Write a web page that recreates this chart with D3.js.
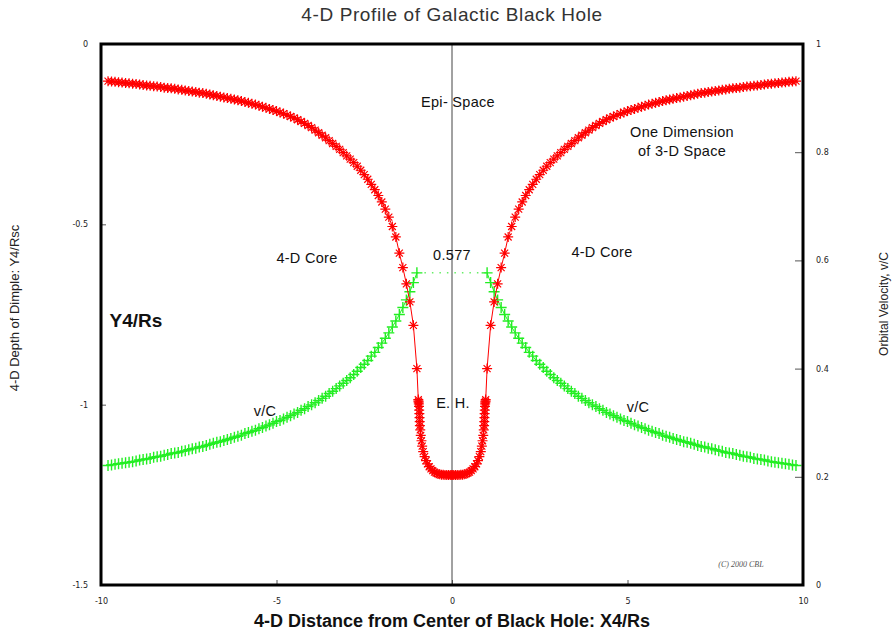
<!DOCTYPE html>
<html>
<head>
<meta charset="utf-8">
<script src="https://cdn.jsdelivr.net/npm/d3@7"></script>
<style>
  body { margin: 0; background: #fff; }
  text { font-family: "Liberation Sans", Arial, sans-serif; }
</style>
</head>
<body>
<div id="chart"></div>
<script>
(function(d3) {

// sample positions along X4/Rs (right half, mirrored for the left half)
var xGrid = [1.0,1.1,1.2,1.3,1.4,1.5,1.6,1.7,1.8,1.9,2.0,2.1,2.2,2.3,2.4,2.5,2.6,2.7,2.8,2.9,
  3.0,3.1,3.2,3.3,3.4,3.5,3.6,3.7,3.8,3.9,4.0,4.1,4.2,4.3,4.4,4.5,4.6,4.7,4.8,4.9,
  5.0,5.1,5.2,5.3,5.4,5.5,5.6,5.7,5.8,5.9,6.0,6.1,6.2,6.3,6.4,6.5,6.6,6.7,6.8,6.9,
  7.0,7.1,7.2,7.3,7.4,7.5,7.6,7.7,7.8,7.9,8.0,8.1,8.2,8.3,8.4,8.5,8.6,8.7,8.8,8.9,
  9.0,9.1,9.2,9.3,9.4,9.5,9.6,9.7,9.8];

// 4-D depth Y4/Rs outside the core
var depthY = [-0.900,-0.780,-0.715,-0.665,-0.620,-0.580,-0.535,-0.506,-0.480,-0.458,
  -0.438,-0.420,-0.404,-0.389,-0.375,-0.362,-0.350,-0.339,-0.329,-0.319,
  -0.310,-0.301,-0.292,-0.284,-0.276,-0.268,-0.260,-0.253,-0.246,-0.239,
  -0.232,-0.226,-0.220,-0.215,-0.210,-0.205,-0.201,-0.197,-0.193,-0.190,
  -0.186,-0.183,-0.180,-0.177,-0.174,-0.171,-0.168,-0.166,-0.163,-0.161,
  -0.158,-0.156,-0.154,-0.152,-0.150,-0.148,-0.146,-0.144,-0.142,-0.140,
  -0.138,-0.136,-0.135,-0.133,-0.132,-0.130,-0.129,-0.127,-0.126,-0.124,
  -0.123,-0.122,-0.121,-0.119,-0.118,-0.117,-0.116,-0.115,-0.114,-0.112,
  -0.111,-0.110,-0.109,-0.108,-0.107,-0.106,-0.105,-0.104,-0.103];

// event horizon pit (right half)
var pitX = [0,0.05,0.1,0.15,0.2,0.25,0.3,0.35,0.4,0.45,0.5,0.55,0.6,0.65,0.7,0.74,0.78,0.82,
  0.85,0.87,0.89,0.905,0.915,0.92,0.925,0.93,0.935,0.94,0.945,0.95,0.955,0.96];
var pitY = [-1.195,-1.195,-1.195,-1.195,-1.195,-1.194,-1.194,-1.193,-1.192,-1.190,-1.187,-1.183,
  -1.178,-1.172,-1.164,-1.155,-1.144,-1.130,-1.115,-1.100,-1.085,-1.070,-1.058,-1.047,-1.036,
  -1.025,-1.015,-1.005,-0.998,-0.993,-0.990,-0.986];

// orbital velocity v/C
var velocity = [0.577,0.559,0.542,0.527,0.513,0.500,0.488,0.477,0.466,0.456,
  0.447,0.439,0.430,0.423,0.415,0.408,0.402,0.395,0.389,0.383,
  0.378,0.373,0.368,0.363,0.358,0.354,0.349,0.345,0.341,0.337,
  0.333,0.330,0.326,0.323,0.319,0.316,0.313,0.310,0.307,0.304,
  0.302,0.299,0.296,0.294,0.291,0.289,0.286,0.284,0.282,0.280,
  0.277,0.275,0.273,0.271,0.269,0.267,0.265,0.264,0.262,0.260,
  0.258,0.256,0.255,0.253,0.252,0.250,0.248,0.247,0.245,0.244,
  0.243,0.241,0.240,0.238,0.237,0.236,0.234,0.233,0.232,0.231,
  0.229,0.228,0.227,0.226,0.225,0.224,0.223,0.222,0.221];

var xTicks = [-10, -5, 0, 5, 10];
var xTickLabels = ['-10', '-5', '0', '5', '10'];
var yTicks = [0, -0.5, -1, -1.5];
var yTickLabels = ['0', '-0.5', '-1', '-1.5'];
var vTicks = [1, 0.8, 0.6, 0.4, 0.2, 0];
var vTickLabels = ['1', '0.8', '0.6', '0.4', '0.2', '0'];

var width = 894;
var height = 634;
var left = 101, right = 803, top = 44, bottom = 585;

var svg = d3.select('#chart')
  .append('svg')
  .attr('width', width)
  .attr('height', height);

var x = d3.scaleLinear().domain([-10, 10]).range([left, right]);
var y = d3.scaleLinear().domain([0, -1.5]).range([top, bottom]);
var yv = d3.scaleLinear().domain([1, 0]).range([top, bottom]);

// build the profile points: left half mirrored, then right half
var rightHalf = [];
pitX.forEach(function(px, i) { rightHalf.push({ x: px, y: pitY[i] }); });
xGrid.forEach(function(gx, i) { rightHalf.push({ x: gx, y: depthY[i] }); });
var leftHalf = rightHalf.map(function(d) { return { x: -d.x, y: d.y }; }).reverse();
var profile = leftHalf.concat(rightHalf);

var velRight = xGrid.map(function(gx, i) { return { x: gx, v: velocity[i] }; });
var velLeft = velRight.map(function(d) { return { x: -d.x, v: d.v }; });

// axes
function styleAxis(g) {
  g.select('.domain').remove();
  g.selectAll('.tick line').attr('stroke', '#555');
  g.selectAll('.tick text')
    .style('font-family', '"DejaVu Sans", sans-serif')
    .style('font-size', '8px')
    .attr('fill', '#222');
}

svg.append('g')
  .attr('transform', 'translate(0,' + bottom + ')')
  .call(d3.axisBottom(x).tickValues(xTicks)
    .tickFormat(function(d, i) { return xTickLabels[i]; })
    .tickSizeInner(-5).tickSizeOuter(0).tickPadding(13))
  .call(styleAxis);

svg.append('g')
  .attr('transform', 'translate(' + left + ',0)')
  .call(d3.axisLeft(y).tickValues(yTicks)
    .tickFormat(function(d, i) { return yTickLabels[i]; })
    .tickSizeInner(-5).tickSizeOuter(0).tickPadding(13))
  .call(styleAxis);

svg.append('g')
  .attr('transform', 'translate(' + right + ',0)')
  .call(d3.axisRight(yv).tickValues(vTicks)
    .tickFormat(function(d, i) { return vTickLabels[i]; })
    .tickSizeInner(-8).tickSizeOuter(0).tickPadding(13))
  .call(styleAxis);

// centre line
svg.append('line')
  .attr('x1', x(0)).attr('x2', x(0))
  .attr('y1', top).attr('y2', bottom)
  .attr('stroke', '#444')
  .attr('stroke-width', 1);

// dotted line at v/C = 0.577 between the two curves
svg.append('line')
  .attr('x1', x(velLeft[0].x)).attr('x2', x(velRight[0].x))
  .attr('y1', yv(velocity[0])).attr('y2', yv(velocity[0]))
  .attr('stroke', '#66ee66')
  .attr('stroke-width', 1.5)
  .attr('stroke-dasharray', '1.5,6');

// velocity curves (green +)
var vLine = d3.line()
  .x(function(d) { return x(d.x); })
  .y(function(d) { return yv(d.v); });

[velLeft, velRight].forEach(function(set) {
  svg.append('path')
    .attr('d', vLine(set))
    .attr('fill', 'none')
    .attr('stroke', '#22ee22')
    .attr('stroke-width', 1);

  svg.append('g').selectAll('path')
    .data(set)
    .enter()
    .append('path')
    .attr('d', function(d) {
      var cx = x(d.x), cy = yv(d.v), s = 5.5;
      return 'M' + (cx - s) + ',' + cy + 'H' + (cx + s) +
             'M' + cx + ',' + (cy - s) + 'V' + (cy + s);
    })
    .attr('stroke', '#22ee22')
    .attr('stroke-width', 1.4);
});

// profile curve (red *)
var pLine = d3.line()
  .x(function(d) { return x(d.x); })
  .y(function(d) { return y(d.y); });

svg.append('path')
  .attr('d', pLine(profile))
  .attr('fill', 'none')
  .attr('stroke', '#ff0000')
  .attr('stroke-width', 1);

svg.append('g').selectAll('path')
  .data(profile)
  .enter()
  .append('path')
  .attr('d', function(d) {
    var cx = x(d.x), cy = y(d.y), s = 5, t = 3.5;
    return 'M' + (cx - s) + ',' + cy + 'H' + (cx + s) +
           'M' + cx + ',' + (cy - s) + 'V' + (cy + s) +
           'M' + (cx - t) + ',' + (cy - t) + 'L' + (cx + t) + ',' + (cy + t) +
           'M' + (cx - t) + ',' + (cy + t) + 'L' + (cx + t) + ',' + (cy - t);
  })
  .attr('stroke', '#ff0000')
  .attr('stroke-width', 1.2);

// frame
svg.append('rect')
  .attr('x', left).attr('y', top)
  .attr('width', right - left).attr('height', bottom - top)
  .attr('fill', 'none')
  .attr('stroke', '#000')
  .attr('stroke-width', 3);

// titles
svg.append('text')
  .attr('x', 452).attr('y', 21)
  .attr('text-anchor', 'middle')
  .style('font-size', '19px')
  .style('letter-spacing', '0.6px')
  .attr('fill', '#333')
  .text('4-D Profile of Galactic Black Hole');

svg.append('text')
  .attr('x', 452).attr('y', 627)
  .attr('text-anchor', 'middle')
  .style('font-size', '18px')
  .style('font-weight', 'bold')
  .attr('fill', '#111')
  .text('4-D Distance from Center of Black Hole: X4/Rs');

svg.append('text')
  .attr('transform', 'translate(19,308) rotate(-90)')
  .attr('text-anchor', 'middle')
  .style('font-size', '13px')
  .attr('fill', '#222')
  .text('4-D Depth of Dimple: Y4/Rsc');

svg.append('text')
  .attr('transform', 'translate(888,304) rotate(-90)')
  .attr('text-anchor', 'middle')
  .style('font-size', '12px')
  .attr('fill', '#222')
  .text('Orbital Velocity,  v/C');

// annotations
var notes = [
  { t: 'Epi- Space', x: 458, y: 107 },
  { t: 'One Dimension', x: 682, y: 137 },
  { t: 'of 3-D Space', x: 682, y: 156 },
  { t: '4-D Core', x: 307, y: 263 },
  { t: '4-D Core', x: 602, y: 257 },
  { t: '0.577', x: 452, y: 260 },
  { t: 'v/C', x: 265, y: 416 },
  { t: 'v/C', x: 638, y: 412 },
  { t: 'E. H.', x: 453, y: 408 }
];

svg.selectAll('.note')
  .data(notes)
  .enter()
  .append('text')
  .attr('class', 'note')
  .attr('x', function(d) { return d.x; })
  .attr('y', function(d) { return d.y; })
  .attr('text-anchor', 'middle')
  .style('font-size', '14.5px')
  .style('letter-spacing', '0.3px')
  .attr('fill', '#111')
  .text(function(d) { return d.t; });

svg.append('text')
  .attr('x', 136).attr('y', 327)
  .attr('text-anchor', 'middle')
  .style('font-size', '19px')
  .style('font-weight', 'bold')
  .attr('fill', '#111')
  .text('Y4/Rs');

svg.append('text')
  .attr('x', 741).attr('y', 567)
  .attr('text-anchor', 'middle')
  .style('font-family', '"Liberation Serif", serif')
  .style('font-style', 'italic')
  .style('font-size', '8px')
  .attr('fill', '#555')
  .text('(C) 2000 CBL');

})(window.d3);
</script>
</body>
</html>
